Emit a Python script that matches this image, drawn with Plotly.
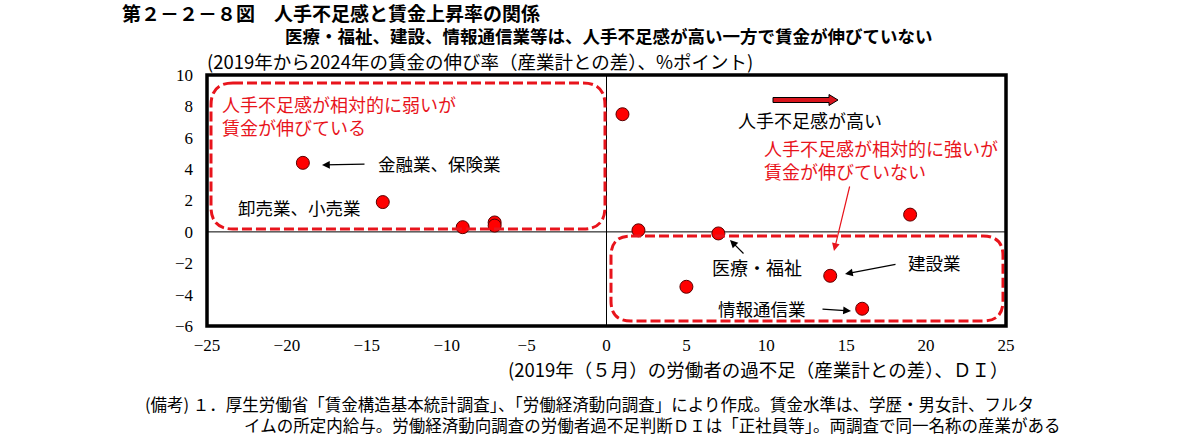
import plotly.graph_objects as go

# ---- data ----
labor_shortage_di = [-19.0, -14.0, -9.0, -7.0, -7.0, 1.0, 2.0, 7.0, 5.0, 14.0, 16.0, 19.0]
wage_growth_diff = [4.4, 1.9, 0.3, 0.6, 0.4, 7.5, 0.1, -0.1, -3.5, -2.8, -4.9, 1.1]
x_ticks = [-25, -20, -15, -10, -5, 0, 5, 10, 15, 20, 25]
y_ticks = [-6, -4, -2, 0, 2, 4, 6, 8, 10]

# plot area in pixels (for converting decorative shapes)
W, H = 1183, 439
PL, PR, PT, PB = 207, 1006, 75, 326
XMIN, XMAX, YMIN, YMAX = -25, 25, -6, 10


def dx(px):
    return XMIN + (px - PL) / (PR - PL) * (XMAX - XMIN)


def dy(py):
    return YMIN + (PB - py) / (PB - PT) * (YMAX - YMIN)


def rounded_rect(x0, y0, x1, y1, r):
    p = f"M {dx(x0 + r)},{dy(y0)} L {dx(x1 - r)},{dy(y0)} Q {dx(x1)},{dy(y0)} {dx(x1)},{dy(y0 + r)} "
    p += f"L {dx(x1)},{dy(y1 - r)} Q {dx(x1)},{dy(y1)} {dx(x1 - r)},{dy(y1)} "
    p += f"L {dx(x0 + r)},{dy(y1)} Q {dx(x0)},{dy(y1)} {dx(x0)},{dy(y1 - r)} "
    p += f"L {dx(x0)},{dy(y0 + r)} Q {dx(x0)},{dy(y0)} {dx(x0 + r)},{dy(y0)} Z"
    return p


JP = "Noto Sans CJK JP"
SERIF = "Liberation Serif"
RED = "#e8141c"
DASH = "10px,4px"

fig = go.Figure()
fig.add_trace(go.Scatter(
    x=labor_shortage_di, y=wage_growth_diff, mode="markers",
    marker=dict(size=13, color="#ff0000", line=dict(color="#5a0000", width=1)),
    showlegend=False, hoverinfo="x+y"))

shapes = []
shapes.append(dict(type="path", path=rounded_rect(211, 83, 605, 229, 22), xref="x", yref="y",
                   line=dict(color=RED, width=3, dash=DASH)))
shapes.append(dict(type="path", path=rounded_rect(611, 236, 1003, 321, 20), xref="x", yref="y",
                   line=dict(color=RED, width=3, dash=DASH)))
ba = (f"M {dx(773)},{dy(97.5)} L {dx(829)},{dy(97.5)} L {dx(829)},{dy(94.5)} L {dx(838)},{dy(100)} "
      f"L {dx(829)},{dy(105.5)} L {dx(829)},{dy(102.5)} L {dx(773)},{dy(102.5)} Z")
shapes.append(dict(type="path", path=ba, xref="x", yref="y", fillcolor="#d9141c",
                   line=dict(color="#000000", width=1)))
shapes.append(dict(type="line", x0=XMIN, x1=XMAX, y0=0, y1=0, xref="x", yref="y", layer="below",
                   line=dict(color="black", width=1)))
shapes.append(dict(type="line", x0=0, x1=0, y0=YMIN, y1=YMAX, xref="x", yref="y", layer="below",
                   line=dict(color="black", width=1)))
shapes.append(dict(type="rect", x0=0, x1=1, y0=0, y1=1, xref="paper", yref="paper",
                   line=dict(color="black", width=3.5)))

annotations = []


def txt(px, py, text, color="black", size=18, xanchor="left"):
    annotations.append(dict(x=dx(px), y=dy(py), xref="x", yref="y", text=text, showarrow=False,
                            xanchor=xanchor, yanchor="middle", align="left",
                            font=dict(family=JP, size=size, color=color)))


def arrow(x0, y0, x1, y1, color="black", width=1.2, head=2, size=1.3):
    annotations.append(dict(x=dx(x1), y=dy(y1), ax=dx(x0), ay=dy(y0), xref="x", yref="y",
                            axref="x", ayref="y", text="", showarrow=True, arrowhead=head,
                            arrowsize=size, arrowwidth=width, arrowcolor=color))


txt(220, 115, "人手不足感が相対的に弱いが<br>賃金が伸びている", RED, 18)
txt(376, 163, "金融業、保険業", size=17.5)
arrow(366, 164, 322, 165)
txt(236, 207, "卸売業、小売業", size=17.5)
txt(736, 120, "人手不足感が高い", size=18)
txt(762, 159, "人手不足感が相対的に強いが<br>賃金が伸びていない", RED, 18)
arrow(850, 185, 834, 251, color=RED, width=1.2)
txt(710, 267, "医療・福祉", size=18)
arrow(745, 255, 730, 240)
txt(906, 262, "建設業", size=17.5)
arrow(897, 264, 845, 274)
txt(716, 308, "情報通信業", size=17.5)
arrow(821, 309, 851, 311)


def ptxt(px, py, text, size=14, xanchor="left", color="black", bold=False):
    annotations.append(dict(x=(px - PL) / (PR - PL), y=(PB - py) / (PB - PT), xref="paper", yref="paper",
                            text=(f"<b>{text}</b>" if bold else text), align="left",
                            showarrow=False, xanchor=xanchor, yanchor="middle",
                            font=dict(family=JP, size=size, color=color)))


ptxt(120, 12, "第２－２－８図　人手不足感と賃金上昇率の関係", size=19, bold=True)
ptxt(609, 36, "医療・福祉、建設、情報通信業等は、人手不足感が高い一方で賃金が伸びていない", size=17.5, xanchor="center", bold=True)
ptxt(205, 61, "(2019年から2024年の賃金の伸び率（産業計との差）、%ポイント)", size=18.5)
ptxt(1010, 369, "(2019年（５月）の労働者の過不足（産業計との差）、ＤＩ）", size=18.5, xanchor="right")
ptxt(143, 414,
     "(備考) １．厚生労働省「賃金構造基本統計調査」、「労働経済動向調査」により作成。賃金水準は、学歴・男女計、フルタ"
     "<br>\u3000\u3000\u3000\u3000\u3000\u3000イムの所定内給与。労働経済動向調査の労働者過不足判断ＤＩは「正社員等」。両調査で同一名称の産業がある",
     size=16.5)

fig.update_layout(
    width=W, height=H,
    margin=dict(l=PL, r=W - PR, t=PT, b=H - PB),
    plot_bgcolor="white", paper_bgcolor="white",
    xaxis=dict(range=[XMIN, XMAX], tickvals=x_ticks, ticktext=[str(v).replace("-", "−") for v in x_ticks],
               showgrid=False, zeroline=False, showline=False, ticks="", ticklabelstandoff=7,
               tickfont=dict(family=SERIF, size=17, color="black")),
    yaxis=dict(range=[YMIN, YMAX], tickvals=y_ticks, ticktext=[str(v).replace("-", "−") for v in y_ticks],
               showgrid=False, zeroline=False, showline=False, ticks="", ticklabelstandoff=13,
               tickfont=dict(family=SERIF, size=17, color="black")),
    shapes=shapes,
    annotations=annotations,
)

fig.write_html("out.html", config={"displayModeBar": False})
with open("out.html", "r", encoding="utf-8") as f:
    html = f.read()
html = html.replace("<head>", "<head><style>html,body{margin:0;padding:0;overflow:hidden;}</style>", 1)
with open("out.html", "w", encoding="utf-8") as f:
    f.write(html)
